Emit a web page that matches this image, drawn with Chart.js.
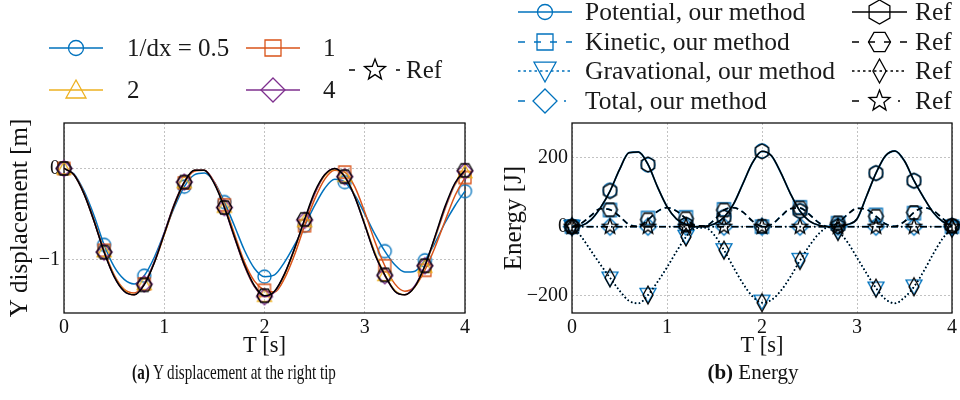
<!DOCTYPE html>
<html><head><meta charset="utf-8">
<script src="https://cdn.jsdelivr.net/npm/chart.js@4.4.0/dist/chart.umd.min.js"></script>
<style>
html,body{margin:0;padding:0;background:#fff;width:960px;height:400px;overflow:hidden}
#c1{position:absolute;left:0;top:0}
#c2{position:absolute;left:480px;top:0}
.cap{position:absolute;top:372px;font-family:"Liberation Serif","Times New Roman",serif;font-size:21px;color:#111;white-space:nowrap;transform:translate(-50%,-50%);}
#capA{transform:translate(-50%,-50%) scaleX(0.72);}
</style></head><body>
<canvas id="c1" width="480" height="400"></canvas>
<canvas id="c2" width="480" height="400"></canvas>
<div class="cap" id="capA" style="left:234px"><b>(a)</b> Y displacement at the right tip</div>
<div class="cap" id="capB" style="left:753px"><b>(b)</b> Energy</div>
<script>
// ---------- data ----------
const time = [0,0.1,0.2,0.3,0.4,0.5,0.6,0.7,0.8,0.9,1.0,1.1,1.2,1.3,1.4,1.5,1.6,1.7,1.8,1.9,2.0,2.1,2.2,2.3,2.4,2.5,2.6,2.7,2.8,2.9,3.0,3.1,3.2,3.3,3.4,3.5,3.6,3.7,3.8,3.9,4.0];
const markerTimes = [0,0.4,0.8,1.2,1.6,2.0,2.4,2.8,3.2,3.6,4.0];
const timeTicks = [0,1,2,3,4];
const dispTicks = [-1,0];
const energyTicks = [-200,0,200];

const dispLabels = ['1/dx = 0.5','1','2','4','Ref'];
const yDx05 = [0,-0.06,-0.25,-0.52,-0.84,-1.08,-1.22,-1.27,-1.18,-0.98,-0.71,-0.43,-0.2,-0.07,-0.05,-0.15,-0.37,-0.63,-0.9,-1.1,-1.19,-1.17,-1.03,-0.84,-0.63,-0.41,-0.22,-0.12,-0.15,-0.29,-0.5,-0.72,-0.91,-1.06,-1.14,-1.13,-1.01,-0.82,-0.6,-0.41,-0.25];
const yDx1 = [0,-0.07,-0.27,-0.57,-0.9,-1.17,-1.33,-1.37,-1.27,-1.04,-0.73,-0.41,-0.16,-0.03,-0.02,-0.15,-0.4,-0.72,-1.03,-1.24,-1.34,-1.36,-1.21,-0.95,-0.63,-0.34,-0.12,-0.02,-0.04,-0.2,-0.48,-0.8,-1.07,-1.27,-1.35,-1.3,-1.12,-0.87,-0.58,-0.3,-0.1];
const yDx2 = [0,-0.07,-0.28,-0.58,-0.91,-1.18,-1.34,-1.39,-1.27,-1.03,-0.72,-0.39,-0.15,-0.02,-0.02,-0.16,-0.42,-0.75,-1.07,-1.3,-1.4,-1.36,-1.17,-0.89,-0.58,-0.28,-0.08,-0.01,-0.08,-0.3,-0.61,-0.92,-1.17,-1.34,-1.39,-1.3,-1.08,-0.77,-0.45,-0.18,-0.04];
const yDx4 = [0,-0.07,-0.28,-0.58,-0.92,-1.19,-1.35,-1.39,-1.27,-1.03,-0.71,-0.39,-0.15,-0.02,-0.02,-0.16,-0.43,-0.76,-1.07,-1.3,-1.41,-1.36,-1.16,-0.88,-0.57,-0.28,-0.07,0,-0.09,-0.31,-0.62,-0.94,-1.18,-1.35,-1.39,-1.29,-1.07,-0.76,-0.44,-0.17,-0.03];
const yRef = [0,-0.07,-0.28,-0.58,-0.92,-1.19,-1.35,-1.39,-1.28,-1.04,-0.72,-0.4,-0.15,-0.02,-0.02,-0.17,-0.43,-0.75,-1.06,-1.29,-1.4,-1.35,-1.16,-0.88,-0.56,-0.26,-0.07,0,-0.09,-0.31,-0.62,-0.94,-1.17,-1.35,-1.39,-1.3,-1.07,-0.75,-0.42,-0.16,-0.02];

const energyLabels = ['Potential, our method','Kinetic, our method','Gravational, our method','Total, our method','Ref'];
const potentialRef = [0,3,20,55,103,165,214,216,180,115,58,22,6,0,1,8,27,65,125,185,218,205,155,95,45,16,4,0,1,6,22,88,155,205,219,190,133,85,42,15,3];
const kineticRef = [0,10,32,52,49,30,6,1,20,44,55,45,23,3,2,20,48,55,42,16,1,6,30,52,54,35,11,0,11,35,53,50,30,8,1,15,41,55,47,24,2];
const gravRef = [0,-30,-70,-110,-148,-185,-215,-222,-198,-160,-118,-72,-30,-5,-3,-25,-68,-118,-165,-202,-220,-212,-185,-145,-98,-55,-20,-2,-14,-45,-90,-135,-178,-210,-222,-205,-174,-130,-80,-35,-5];
const totalRef = [0,0,0,0,0,0,0,0,0,0,0,0,0,0,0,0,0,0,0,0,0,0,0,0,0,0,0,0,0,0,0,0,0,0,0,0,0,0,0,0,0];
const potentialOurs = [0,105,179,5,27,219,46,3,155,133,2];
const kineticOurs = [0,48,25,27,50,0,56,10,34,39,0];
const gravOurs = [0,-150,-197,-29,-68,-217,-96,-14,-179,-173,-5];
const totalOurs = [0,0,0,0,0,0,0,0,0,0,0];

// ---------- styles ----------
const FONT = '"Liberation Serif","Times New Roman",serif';
const BLUE = '#0072BD', ORANGE = '#D95319', YELLOW = '#EDB120', PURPLE = '#7E2F8E', BLACK = '#000';
const DASH = [6,4], DOT = [1.5,2.5], DASHDOT = [7,3,1.5,3];
const LEG_DASH = [7,9], LEG_DOT = [2.5,3], LEG_DASHDOT = [7,39,2,30], LEG_DASHDOT_A = [6,41,4,30];

function shapePath(ctx, kind, cx, cy, r) {
  ctx.beginPath();
  const poly = pts => { pts.forEach((p,i)=> i ? ctx.lineTo(cx+p[0],cy+p[1]) : ctx.moveTo(cx+p[0],cy+p[1])); ctx.closePath(); };
  if (kind === 'circle') ctx.arc(cx, cy, r, 0, 2*Math.PI);
  else if (kind === 'square') ctx.rect(cx-r, cy-r, 2*r, 2*r);
  else if (kind === 'triUp') poly([[0,-r],[r,r*0.8],[-r,r*0.8]]);
  else if (kind === 'triDown') poly([[0,r],[r,-r*0.8],[-r,-r*0.8]]);
  else if (kind === 'diamond') poly([[0,-r],[r,0],[0,r],[-r,0]]);
  else if (kind === 'thin') poly([[0,-r],[r*0.55,0],[0,r],[-r*0.55,0]]);
  else if (kind === 'hex' || kind === 'hexFlat') {
    const pts = [];
    for (let k=0;k<6;k++){ const a = (kind==='hex'? -Math.PI/2 : 0) + k*Math.PI/3; pts.push([r*Math.cos(a), r*Math.sin(a)]); }
    poly(pts);
  } else if (kind === 'star') {
    const pts = [];
    for (let k=0;k<10;k++){ const rr = k%2 ? r*0.42 : r; const a = -Math.PI/2 + k*Math.PI/5; pts.push([rr*Math.cos(a), rr*Math.sin(a)]); }
    poly(pts);
  }
}
function drawMarker(ctx, kind, cx, cy, r, color, lw) {
  ctx.save(); ctx.setLineDash([]); ctx.strokeStyle = color; ctx.lineWidth = lw || 1.3;
  shapePath(ctx, kind, cx, cy, r); ctx.stroke(); ctx.restore();
}
function markerImage(kind, r, color, lw) {
  const s = Math.ceil(2*r + 8); const c = document.createElement('canvas'); c.width = s; c.height = s;
  drawMarker(c.getContext('2d'), kind, s/2, s/2, r, color, lw); return c;
}

const framePlugin = { id:'frame', beforeDatasetsDraw(chart){ const {ctx, chartArea:a} = chart; ctx.save(); ctx.strokeStyle='#111'; ctx.lineWidth=1.3; ctx.strokeRect(a.left, a.top, a.right-a.left, a.bottom-a.top); ctx.restore(); } };
function legendPlugin(items, fontSize) {
  return { id:'customLegend', afterDraw(chart){ const ctx = chart.ctx; ctx.save();
    items.forEach(it => {
      ctx.strokeStyle = it.color; ctx.lineWidth = 1.5; ctx.setLineDash(it.dash);
      ctx.beginPath(); ctx.moveTo(it.x0, it.y); ctx.lineTo(it.x1, it.y); ctx.stroke();
      drawMarker(ctx, it.kind, (it.x0+it.x1)/2, it.y, it.r, it.color, 1.3);
      ctx.setLineDash([]); ctx.fillStyle = '#1a1a1a'; ctx.font = fontSize + 'px ' + FONT; ctx.textBaseline = 'middle'; ctx.textAlign = 'left';
      ctx.fillText(it.text, it.tx, it.y + 1);
    }); ctx.restore(); } };
}
const fmt = v => String(v).replace('-', '\u2212');
function axes(xTicks, yTicks, ymin, ymax, yWidth, yTitle, yTitlePad) {
  const tickFont = {family: FONT, size: 20};
  return {
    x: { type:'linear', min:0, max:4, afterBuildTicks: s => { s.ticks = xTicks.map(v=>({value:v})); }, afterFit: s => { s.height = 87; },
      grid:{color:'#c2c2c2', lineWidth:1, drawTicks:false}, border:{display:false, dash:[2,2]},
      ticks:{font:tickFont, color:'#111', padding:3, maxRotation:0, callback: v => fmt(v)},
      title:{display:true, text:'T [s]', font:{family:FONT, size:22.5}, color:'#111', padding:{top:0, bottom:40}} },
    y: { type:'linear', min:ymin, max:ymax, afterBuildTicks: s => { s.ticks = yTicks.map(v=>({value:v})); }, afterFit: s => { s.width = yWidth; },
      grid:{color:'#c2c2c2', lineWidth:1, drawTicks:false}, border:{display:false, dash:[2,2]},
      ticks:{font:tickFont, color:'#111', padding:4, callback: v => fmt(v)},
      title:{display:true, text:yTitle, font:{family:FONT, size:25}, color:'#111', padding:{top:yTitlePad, bottom:0}} }
  };
}
const every4 = r => (c => c.dataIndex % 4 === 0 ? r : 0);
function curve(values, color, dash, img, order, w) {
  return { data: time.map((t,i)=>({x:t, y:values[i]})), borderColor:color, borderWidth:w||1.5, borderDash:dash,
    pointStyle: img || false, pointRadius: img ? every4(6) : 0, pointHoverRadius:0, cubicInterpolationMode:'monotone', fill:false, clip:false, order };
}
function marks(values, img, order) {
  return { data: markerTimes.map((t,i)=>({x:t, y:values[i]})), showLine:false, borderColor:'transparent', pointStyle: img, pointRadius:6, pointHoverRadius:0, clip:false, order };
}

// ---------- chart (a) ----------
new Chart(document.getElementById('c1'), {
  type:'line',
  data:{ datasets:[
    curve(yDx05, BLUE, [], markerImage('circle', 6.5, BLUE), 5),
    curve(yDx1, ORANGE, [], markerImage('square', 6, ORANGE), 4),
    curve(yDx2, YELLOW, [], markerImage('triUp', 7, YELLOW), 3),
    curve(yDx4, PURPLE, [], markerImage('diamond', 8, PURPLE), 2),
    curve(yRef, BLACK, [], markerImage('hexFlat', 7.5, BLACK), 1)
  ]},
  options:{ responsive:false, animation:false, events:[],
    layout:{padding:{left:0, right:15, top:123, bottom:0}},
    plugins:{legend:{display:false}, tooltip:{enabled:false}},
    scales: axes(timeTicks, dispTicks, -1.59, 0.5, 64, 'Y displacement [m]', 5) },
  plugins:[framePlugin, legendPlugin([
    {x0:49, x1:103, y:48, color:BLUE, dash:[], kind:'circle', r:7.5, text:dispLabels[0], tx:127},
    {x0:246, x1:300, y:48, color:ORANGE, dash:[], kind:'square', r:8, text:dispLabels[1], tx:323},
    {x0:49, x1:103, y:90, color:YELLOW, dash:[], kind:'triUp', r:10, text:dispLabels[2], tx:127},
    {x0:246, x1:300, y:90, color:PURPLE, dash:[], kind:'diamond', r:12, text:dispLabels[3], tx:323},
    {x0:349, x1:401, y:70, color:BLACK, dash:LEG_DASHDOT_A, kind:'star', r:11, text:dispLabels[4], tx:406}
  ], 25)]
});

// ---------- chart (b) ----------
new Chart(document.getElementById('c2'), {
  type:'line',
  data:{ datasets:[
    curve(potentialRef, BLUE, [], null, 9, 1.8),
    curve(kineticRef, BLUE, DASH, null, 9, 1.8),
    curve(gravRef, BLUE, DOT, null, 9, 1.8),
    curve(totalRef, BLUE, DASHDOT, null, 9, 1.8),
    marks(potentialOurs, markerImage('circle', 7, BLUE), 8),
    marks(kineticOurs, markerImage('square', 6.5, BLUE), 8),
    marks(gravOurs, markerImage('triDown', 8, BLUE), 8),
    marks(totalOurs, markerImage('diamond', 8.5, BLUE), 8),
    curve(potentialRef, BLACK, [], markerImage('hex', 7.5, BLACK), 1),
    curve(kineticRef, BLACK, DASH, markerImage('hexFlat', 7.5, BLACK), 1),
    curve(gravRef, BLACK, DOT, markerImage('thin', 9, BLACK), 1),
    curve(totalRef, BLACK, DASHDOT, markerImage('star', 8, BLACK), 1)
  ]},
  options:{ responsive:false, animation:false, events:[],
    layout:{padding:{left:0, right:8, top:123, bottom:0}},
    plugins:{legend:{display:false}, tooltip:{enabled:false}},
    scales: axes(timeTicks, energyTicks, -250, 300, 92, 'Energy [J]', 19) },
  plugins:[framePlugin, legendPlugin([
    {x0:38, x1:92, y:12, color:BLUE, dash:[], kind:'circle', r:7.5, text:energyLabels[0], tx:105},
    {x0:38, x1:92, y:42, color:BLUE, dash:LEG_DASH, kind:'square', r:8, text:energyLabels[1], tx:105},
    {x0:38, x1:92, y:71, color:BLUE, dash:LEG_DOT, kind:'triDown', r:11, text:energyLabels[2], tx:105},
    {x0:38, x1:92, y:101, color:BLUE, dash:LEG_DASHDOT, kind:'diamond', r:12, text:energyLabels[3], tx:105},
    {x0:372, x1:427, y:12, color:BLACK, dash:[], kind:'hex', r:12, text:energyLabels[4], tx:435},
    {x0:372, x1:427, y:42, color:BLACK, dash:LEG_DASH, kind:'hexFlat', r:11, text:energyLabels[4], tx:435},
    {x0:372, x1:427, y:71, color:BLACK, dash:LEG_DOT, kind:'thin', r:12, text:energyLabels[4], tx:435},
    {x0:372, x1:427, y:101, color:BLACK, dash:LEG_DASHDOT, kind:'star', r:11, text:energyLabels[4], tx:435}
  ], 25.5)]
});
</script>
</body></html>
